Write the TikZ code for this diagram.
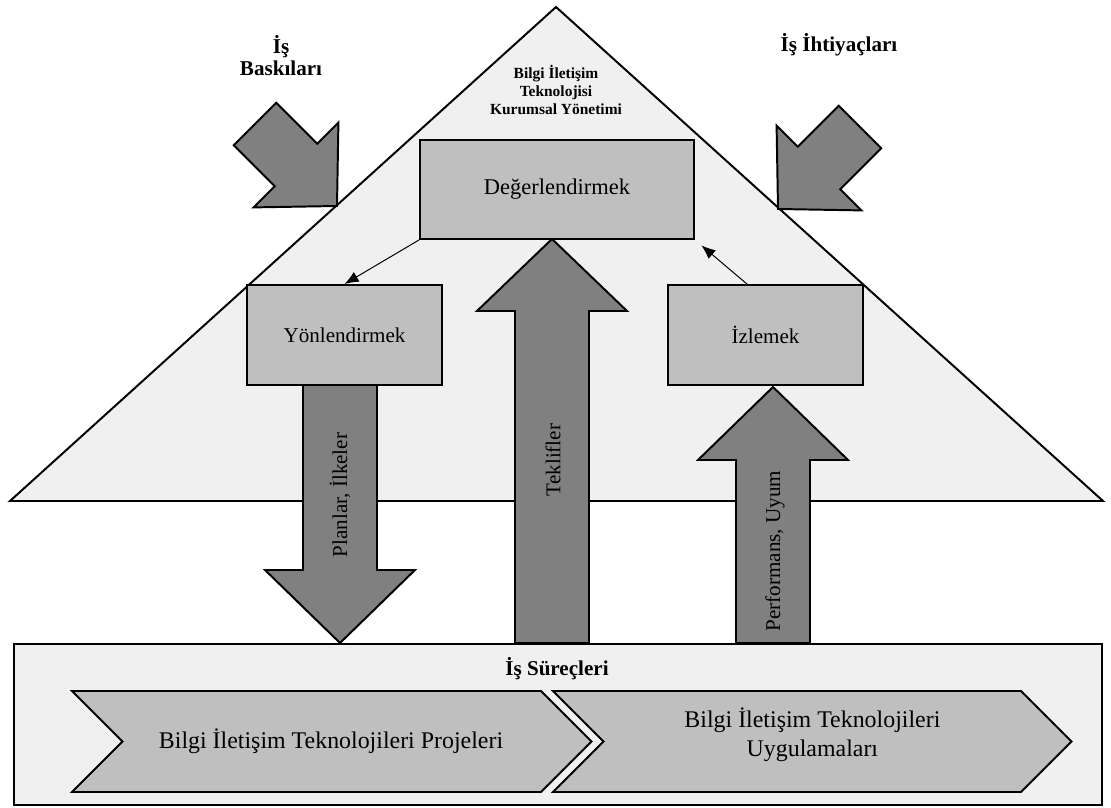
\documentclass[tikz,border=0pt]{standalone}
\usepackage{fontspec}
\setmainfont{Liberation Serif}
\usetikzlibrary{arrows.meta}

\definecolor{acikgri}{gray}{0.94}
\definecolor{ortagri}{gray}{0.75}
\definecolor{koyugri}{gray}{0.5}

\begin{document}
\begin{tikzpicture}[
	kutu/.style = {draw, fill=ortagri, line width=1.4pt, minimum width=4.875cm, minimum height=2.5cm, font=\fontsize{15}{18}\selectfont},
	blokok/.style = {draw, fill=koyugri, line width=1.4pt, line join=miter},
	serit/.style = {draw, fill=ortagri, line width=1.4pt},
	okyazi/.style = {rotate=90, font=\fontsize{15}{18}\selectfont},
	baslik/.style = {align=center, font=\bfseries\fontsize{15}{15.6}\selectfont},
	ince/.style = {-{Latex[length=10pt,width=8pt]}, line width=0.7pt}
]
	\useasboundingbox (0,0) rectangle (27.775,20.175);

	% piramit
	\draw[fill=acikgri, line width=1.4pt] (0.25,7.65) -- (13.9,20) -- (27.575,7.65) -- cycle;
	\node[align=center, font=\bfseries\fontsize{11}{12.8}\selectfont] (yonetim) at (13.9,17.925) {Bilgi İletişim\\Teknolojisi\\Kurumsal Yönetimi};

	% dis baskilar
	\node[baslik] (baski) at (7.025,18.775) {İş\\Baskıları};
	\node[baslik] (ihtiyac) at (20.975,19.05) {İş İhtiyaçları};
	\draw[blokok, shift={(8.425,15.025)}, rotate=-45] (0,0) -- (-1.45,1.5) -- (-1.45,0.75) -- (-2.9,0.75) -- (-2.9,-0.75) -- (-1.45,-0.75) -- (-1.45,-1.5) -- cycle;
	\draw[blokok, shift={(19.45,14.95)}, rotate=-135] (0,0) -- (-1.45,1.5) -- (-1.45,0.75) -- (-2.9,0.75) -- (-2.9,-0.75) -- (-1.45,-0.75) -- (-1.45,-1.5) -- cycle;

	% is surecleri
	\node[draw, fill=acikgri, line width=1.2pt, minimum width=27.2cm, minimum height=4.025cm] (surec) at (13.95,2.0625) {};
	\node[baslik] (surecyazi) at (13.925,3.45) {İş Süreçleri};
	\draw[serit] (1.8,2.9) -- (13.525,2.9) -- (14.7875,1.6375) -- (13.525,0.375) -- (1.8,0.375) -- (3.0625,1.6375) -- cycle;
	\draw[serit] (13.825,2.9) -- (25.525,2.9) -- (26.7875,1.6375) -- (25.525,0.375) -- (13.825,0.375) -- (15.0875,1.6375) -- cycle;
	\node[font=\fontsize{17}{20.5}\selectfont] (proje) at (8.275,1.6375) {Bilgi İletişim Teknolojileri Projeleri};
	\node[align=center, font=\fontsize{17}{20.5}\selectfont] (uygulama) at (20.31,1.8) {Bilgi İletişim Teknolojileri\\Uygulamaları};

	% buyuk oklar
	\draw[blokok] (7.575,10.55) -- (9.425,10.55) -- (9.425,5.925) -- (10.375,5.925) -- (8.5,4.1) -- (6.625,5.925) -- (7.575,5.925) -- cycle;
	\draw[blokok] (12.875,4.1) -- (14.725,4.1) -- (14.725,12.4) -- (15.675,12.4) -- (13.8,14.2) -- (11.925,12.4) -- (12.875,12.4) -- cycle;
	\draw[blokok] (18.4,4.1) -- (20.25,4.1) -- (20.25,8.675) -- (21.2,8.675) -- (19.325,10.5) -- (17.45,8.675) -- (18.4,8.675) -- cycle;
	\node[okyazi] (planlar) at (8.5,7.8) {Planlar, İlkeler};
	\node[okyazi] (teklif) at (13.825,8.675) {Teklifler};
	\node[okyazi] (uyum) at (19.375,6.4) {Performans, Uyum};

	% yonetim kutulari
	\node[kutu, minimum width=6.85cm, minimum height=2.475cm, font=\fontsize{16}{19}\selectfont] (deger) at (13.925,15.4375) {Değerlendirmek};
	\node[kutu] (yon) at (8.6125,11.8) {Yönlendirmek};
	\node[kutu] (izle) at (19.1375,11.8) {İzlemek};

	\draw[ince] (deger.south west) -- (yon.north);
	\draw[ince, shorten >=6pt] (izle.110) -- (deger.south east);
\end{tikzpicture}
\end{document}
